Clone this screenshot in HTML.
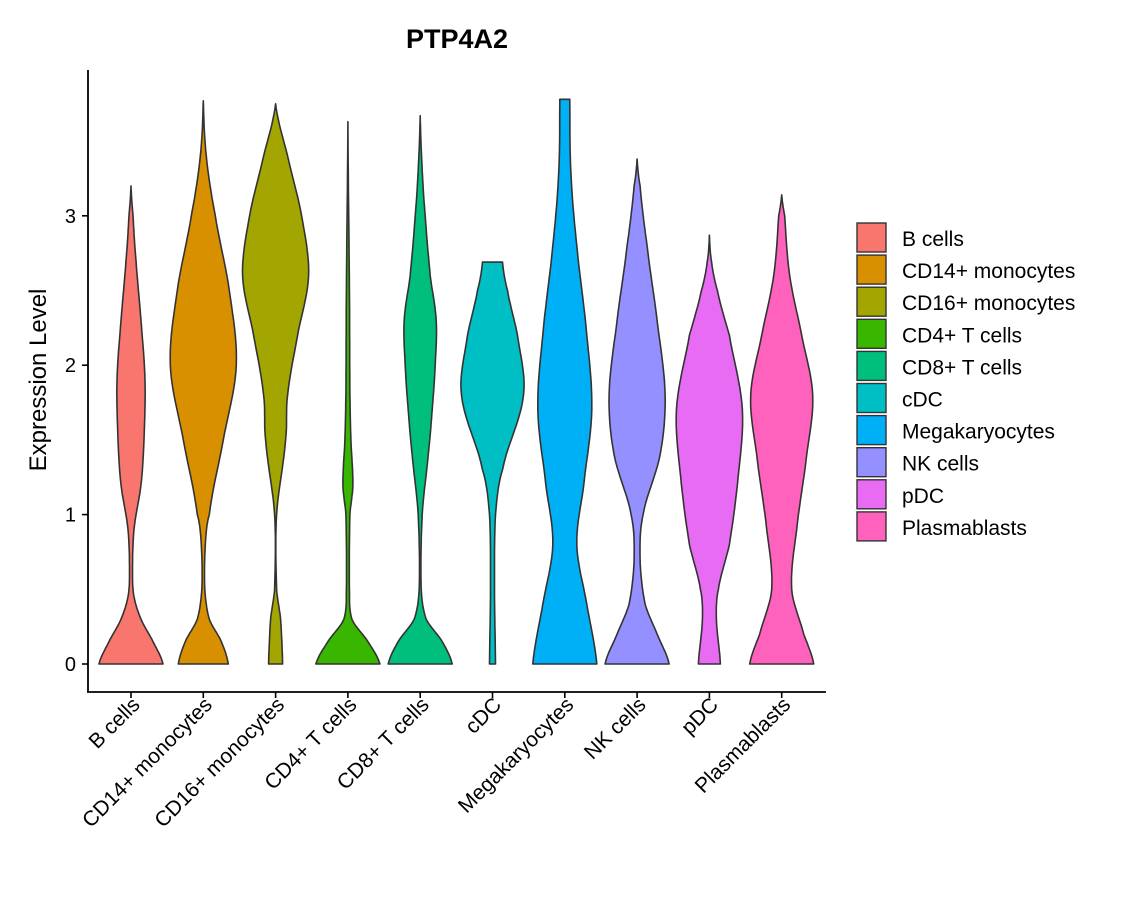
<!DOCTYPE html>
<html><head><meta charset="utf-8">
<style>
body{margin:0;background:#fff;}
svg text{font-family:"Liberation Sans","DejaVu Sans",sans-serif;fill:#000;}
</style></head>
<body>
<svg id="chart" width="1140" height="900" xmlns="http://www.w3.org/2000/svg">
<text x="457" y="48" font-size="27" font-weight="bold" text-anchor="middle">PTP4A2</text>
<text transform="translate(46,380) rotate(-90)" font-size="24" text-anchor="middle">Expression Level</text>
<g id="plot"></g>
<g id="legend"></g>
</svg>
<script>
const categories=["B cells","CD14+ monocytes","CD16+ monocytes","CD4+ T cells","CD8+ T cells","cDC","Megakaryocytes","NK cells","pDC","Plasmablasts"];
const colors=["#F8766D","#D89000","#A3A500","#39B600","#00BF7D","#00BFC4","#00B0F6","#9590FF","#E76BF3","#FF62BC"];
const yTicks=[0,1,2,3];
// density profiles: [expression value, relative half-width (px at max=33)]
const profB=[[0,32],[0.15,22],[0.3,10],[0.45,3],[0.6,1.5],[0.9,3],[1.2,10],[1.5,13],[1.9,14],[2.3,10],[2.7,5],[3.0,2],[3.2,0]];
const profCD14=[[0,25],[0.15,18],[0.3,6],[0.5,1.5],[0.8,2],[1.0,6],[1.5,20],[2.0,33],[2.5,26],[3.0,12],[3.4,3],[3.77,0]];
const profCD16=[[0,7],[0.3,5],[0.5,1],[1.0,1],[1.5,10],[1.8,12],[2.2,22],[2.6,33],[3.0,26],[3.4,12],[3.75,0]];
const profCD4=[[0,32],[0.15,20],[0.3,4],[0.5,1.5],[1.0,2],[1.2,5],[1.5,3],[1.8,2],[2.5,1.5],[3.63,0]];
const profCD8=[[0,32],[0.15,22],[0.3,6],[0.5,1],[1.0,2],[1.4,8],[1.7,12],[2.0,15],[2.3,16],[2.6,10],[3.0,5],[3.3,2],[3.67,0]];
const profcDC=[[0,3],[0.5,2],[1.0,3],[1.3,10],[1.8,31],[2.2,25],[2.5,15],[2.69,10]];
const profMega=[[0,32],[0.4,22],[0.8,12],[1.2,19],[1.7,27],[2.2,22],[2.8,12],[3.3,6],[3.78,5]];
const profNK=[[0,32],[0.2,20],[0.4,8],[0.7,3],[1.0,6],[1.4,23],[1.8,28],[2.3,20],[2.8,10],[3.2,3],[3.38,0]];
const profpDC=[[0,11],[0.3,7],[0.5,9],[0.8,20],[1.2,28],[1.7,33],[2.2,20],[2.5,8],[2.7,2],[2.87,0]];
const profPlasma=[[0,32],[0.2,22],[0.5,10],[0.9,15],[1.4,25],[1.8,31],[2.2,20],[2.6,8],[3.0,3],[3.14,0]];
const profiles=[profB,profCD14,profCD16,profCD4,profCD8,profcDC,profMega,profNK,profpDC,profPlasma];

const NS="http://www.w3.org/2000/svg";
const yS=v=>664-v*149.4;
const xS=i=>131+i*72.3;
const wS=w=>w;
const plot=document.getElementById('plot');
function mk(t,a,p){const e=document.createElementNS(NS,t);for(const k in a)e.setAttribute(k,a[k]);(p||plot).appendChild(e);return e;}
function sample(p){const out=[];for(let k=0;k<p.length-1;k++){const p0=p[Math.max(k-1,0)],p1=p[k],p2=p[k+1],p3=p[Math.min(k+2,p.length-1)];
for(let s=0;s<10;s++){const t=s/10,t2=t*t,t3=t2*t;
const f=(a,b,c,d)=>0.5*((2*b)+(-a+c)*t+(2*a-5*b+4*c-d)*t2+(-a+3*b-3*c+d)*t3);
out.push([p1[0]+(p2[0]-p1[0])*t,Math.max(0,f(p0[1],p1[1],p2[1],p3[1]))]);}}
out.push(p[p.length-1]);return out;}
profiles.forEach((p,i)=>{
 const s=sample(p),cx=xS(i);
 let d="";s.forEach((q,j)=>{d+=(j?"L":"M")+(cx+wS(q[1])).toFixed(1)+","+yS(q[0]).toFixed(1);});
 for(let j=s.length-1;j>=0;j--){const q=s[j];d+="L"+(cx-wS(q[1])).toFixed(1)+","+yS(q[0]).toFixed(1);}
 d+="Z";
 const v=mk('path',{d:d,fill:colors[i],stroke:"#333",'stroke-width':1.6,'stroke-linejoin':'round'});
 
 
 mk('line',{x1:cx,x2:cx,y1:692,y2:698,stroke:"#000",'stroke-width':1.6});
 const t=mk('text',{transform:`translate(${cx+10},${706}) rotate(-45)`,'font-size':21,'text-anchor':'end'});
 t.textContent=categories[i];
 
 
});
yTicks.forEach(v=>{
 mk('line',{x1:82,x2:88,y1:yS(v),y2:yS(v),stroke:"#000",'stroke-width':1.6});
 const t=mk('text',{x:76,y:yS(v)+7,'font-size':20,'text-anchor':'end'});
 t.textContent=v;
 
 
});
const ya=mk('line',{x1:88,x2:88,y1:70,y2:692,stroke:"#000",'stroke-width':1.8});


const xa=mk('line',{x1:87,x2:826,y1:692,y2:692,stroke:"#000",'stroke-width':1.8});


const lg=document.getElementById('legend');
categories.forEach((c,i)=>{
 const y=223+i*32.1;
 const g=mk('g',{},lg);
 
 
 mk('rect',{x:857,y:y,width:29,height:29,fill:colors[i],stroke:"#333",'stroke-width':1.4},g);
 const t=mk('text',{x:902,y:y+23,'font-size':21},g);
 t.textContent=c;
});
</script>
</body></html>
